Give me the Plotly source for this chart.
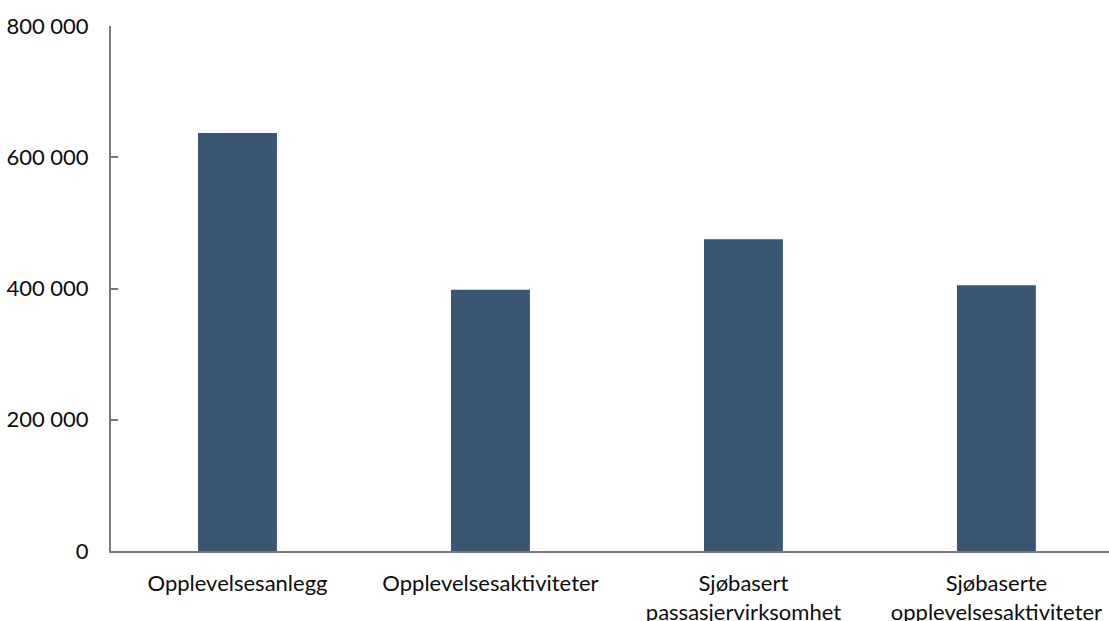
import plotly.graph_objects as go

categories = ["Opplevelsesanlegg", "Opplevelsesaktiviteter",
              "Sjøbasert<br>passasjervirksomhet", "Sjøbaserte<br>opplevelsesaktiviteter"]
values = [637000, 398000, 475000, 405000]
y_ticks = [0, 200000, 400000, 600000, 800000]

BAR = "#3b5673"
AXIS = "#7a7a7a"
FONT = "Lato"
FS = 22
TXT = "#0d0d0d"

xpos = list(range(len(categories)))

fig = go.Figure(go.Bar(x=xpos, y=values, width=0.312, marker_color=BAR,
                       marker_line_width=0))

fig.update_layout(
    width=1109, height=621,
    margin=dict(l=111, r=0, t=26, b=70),
    paper_bgcolor="white", plot_bgcolor="white",
    separators=", ",
    showlegend=False,
    font=dict(family=FONT, size=FS, color=TXT),
    xaxis=dict(range=[-0.5, 3.445], tickvals=xpos, ticktext=categories,
               ticks="", ticklabelstandoff=12, automargin=False,
               tickfont=dict(family=FONT, size=FS, color=TXT),
               showline=True, linecolor=AXIS, linewidth=2, showgrid=False,
               zeroline=False, fixedrange=True),
    yaxis=dict(range=[0, 800000], tickvals=y_ticks, tickformat=",d",
               ticks="inside", ticklen=7, tickcolor=AXIS, tickwidth=1.5,
               showline=True, linecolor=AXIS, linewidth=2, showgrid=False,
               zeroline=False, ticklabelstandoff=16, automargin=False,
               tickfont=dict(family=FONT, size=FS, color=TXT)),
)

fig.write_html("out.html")
